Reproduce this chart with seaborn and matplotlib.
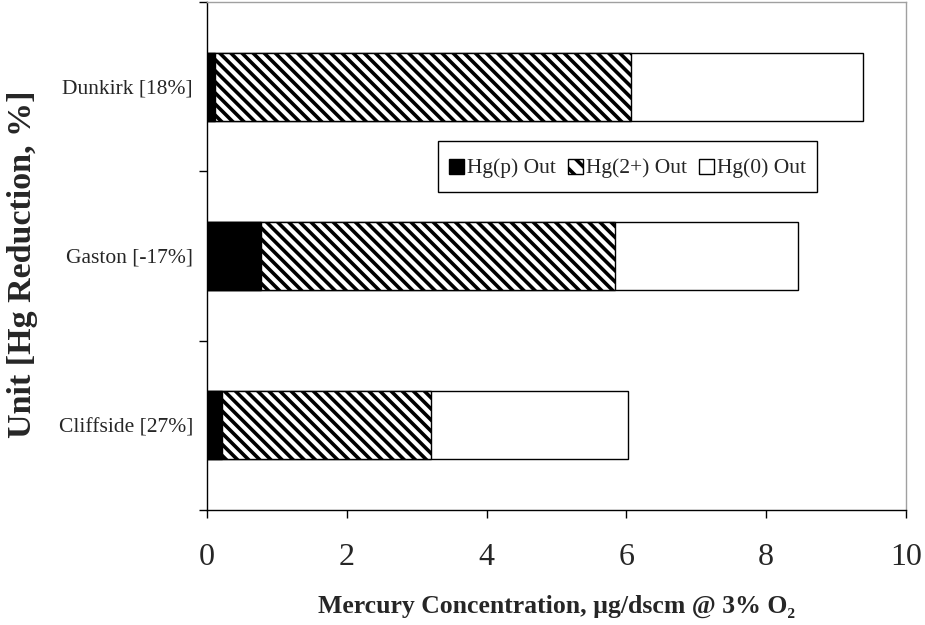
import matplotlib
matplotlib.use("Agg")
import matplotlib.pyplot as plt
import seaborn as sns
import pandas as pd
from matplotlib.patches import Patch, Rectangle
from matplotlib.legend_handler import HandlerPatch

units = ["Dunkirk [18%]", "Gaston [-17%]", "Cliffside [27%]"]
hg_p = [0.11, 0.77, 0.21]
hg_2 = [5.95, 5.07, 3.00]
hg_0 = [3.33, 2.62, 2.82]
series_labels = ["Hg(p) Out", "Hg(2+) Out", "Hg(0) Out"]
x_ticks = [0, 2, 4, 6, 8, 10]

BS = chr(92)
HATCH = BS * 3

sns.set_theme(style="white")
plt.rcParams['font.family'] = ['Liberation Serif', 'DejaVu Serif']
plt.rcParams['hatch.linewidth'] = 2.6
plt.rcParams['hatch.color'] = 'black'

df = pd.DataFrame({"unit": units, "p": hg_p, "two": hg_2, "zero": hg_0})
df["c1"] = df["p"]
df["c2"] = df["p"] + df["two"]
df["c3"] = df["c2"] + df["zero"]

fig = plt.figure(figsize=(9.25, 6.25), dpi=100)
ax = fig.add_axes([207/925, 1-510/625, (906-207)/925, (510-2)/625])

w = 0.4
sns.barplot(data=df, x="c3", y="unit", orient="h", color="white", edgecolor="black",
            linewidth=1.0, width=w, ax=ax, saturation=1)
sns.barplot(data=df, x="c2", y="unit", orient="h", color="white", edgecolor="black",
            linewidth=1.0, width=w, ax=ax, saturation=1, hatch=HATCH)
sns.barplot(data=df, x="c1", y="unit", orient="h", color="black", edgecolor="black",
            linewidth=1.0, width=w, ax=ax, saturation=1)

ax.set_xlim(0, 10)
ax.set_ylim(2.5, -0.5)
ax.set_xticks(x_ticks)
ax.set_xticklabels([str(t) for t in x_ticks], fontsize=23)
ax.set_yticks([-0.5, 0.5, 1.5, 2.5])
ax.set_yticklabels([])
ax.set_yticks([0, 1, 2], minor=True)
ax.set_yticklabels(units, minor=True, fontsize=15.5)
ax.tick_params(axis='y', which='minor', length=0, pad=10)
ax.tick_params(axis='y', which='major', length=6, width=1, color='black', direction='out', left=True)
ax.tick_params(axis='x', which='major', length=6, width=1, color='black', direction='out', bottom=True, pad=18)

for s in ['left', 'bottom']:
    ax.spines[s].set_color('black')
    ax.spines[s].set_linewidth(1.0)
for s in ['top', 'right']:
    ax.spines[s].set_color('#a0a0a0')
    ax.spines[s].set_linewidth(1.0)

ax.set_xlabel("Mercury Concentration, \u00b5g/dscm @ 3% O\u2082", fontsize=18.5, fontweight='bold', labelpad=16)
ax.set_ylabel("Unit [Hg Reduction, %]", fontsize=24.5, fontweight='bold')
ax.yaxis.set_label_coords(-0.242, 0.484)


def square_patch(legend, orig_handle, xdescent, ydescent, width, height, fontsize):
    side = 10.5
    return Rectangle((-xdescent + (width - side) / 2, -ydescent + (height - side) / 2), side, side)


handles = [Patch(facecolor='black', edgecolor='black', linewidth=1),
           Patch(facecolor='white', edgecolor='black', hatch=BS * 2, linewidth=1),
           Patch(facecolor='white', edgecolor='black', linewidth=1)]
leg = ax.legend(handles, series_labels, ncol=3, loc='upper left',
                bbox_to_anchor=((438-207)/699, 1-(141-2)/508), borderaxespad=0,
                fontsize=15.5, frameon=True, fancybox=False, framealpha=1,
                edgecolor='black', handlelength=0.7, handleheight=1.7,
                handletextpad=0.15, columnspacing=0.55, borderpad=0.5,
                handler_map={Patch: HandlerPatch(patch_func=square_patch)})
leg.get_frame().set_linewidth(1.0)

fig.savefig("out.png", dpi=100)
